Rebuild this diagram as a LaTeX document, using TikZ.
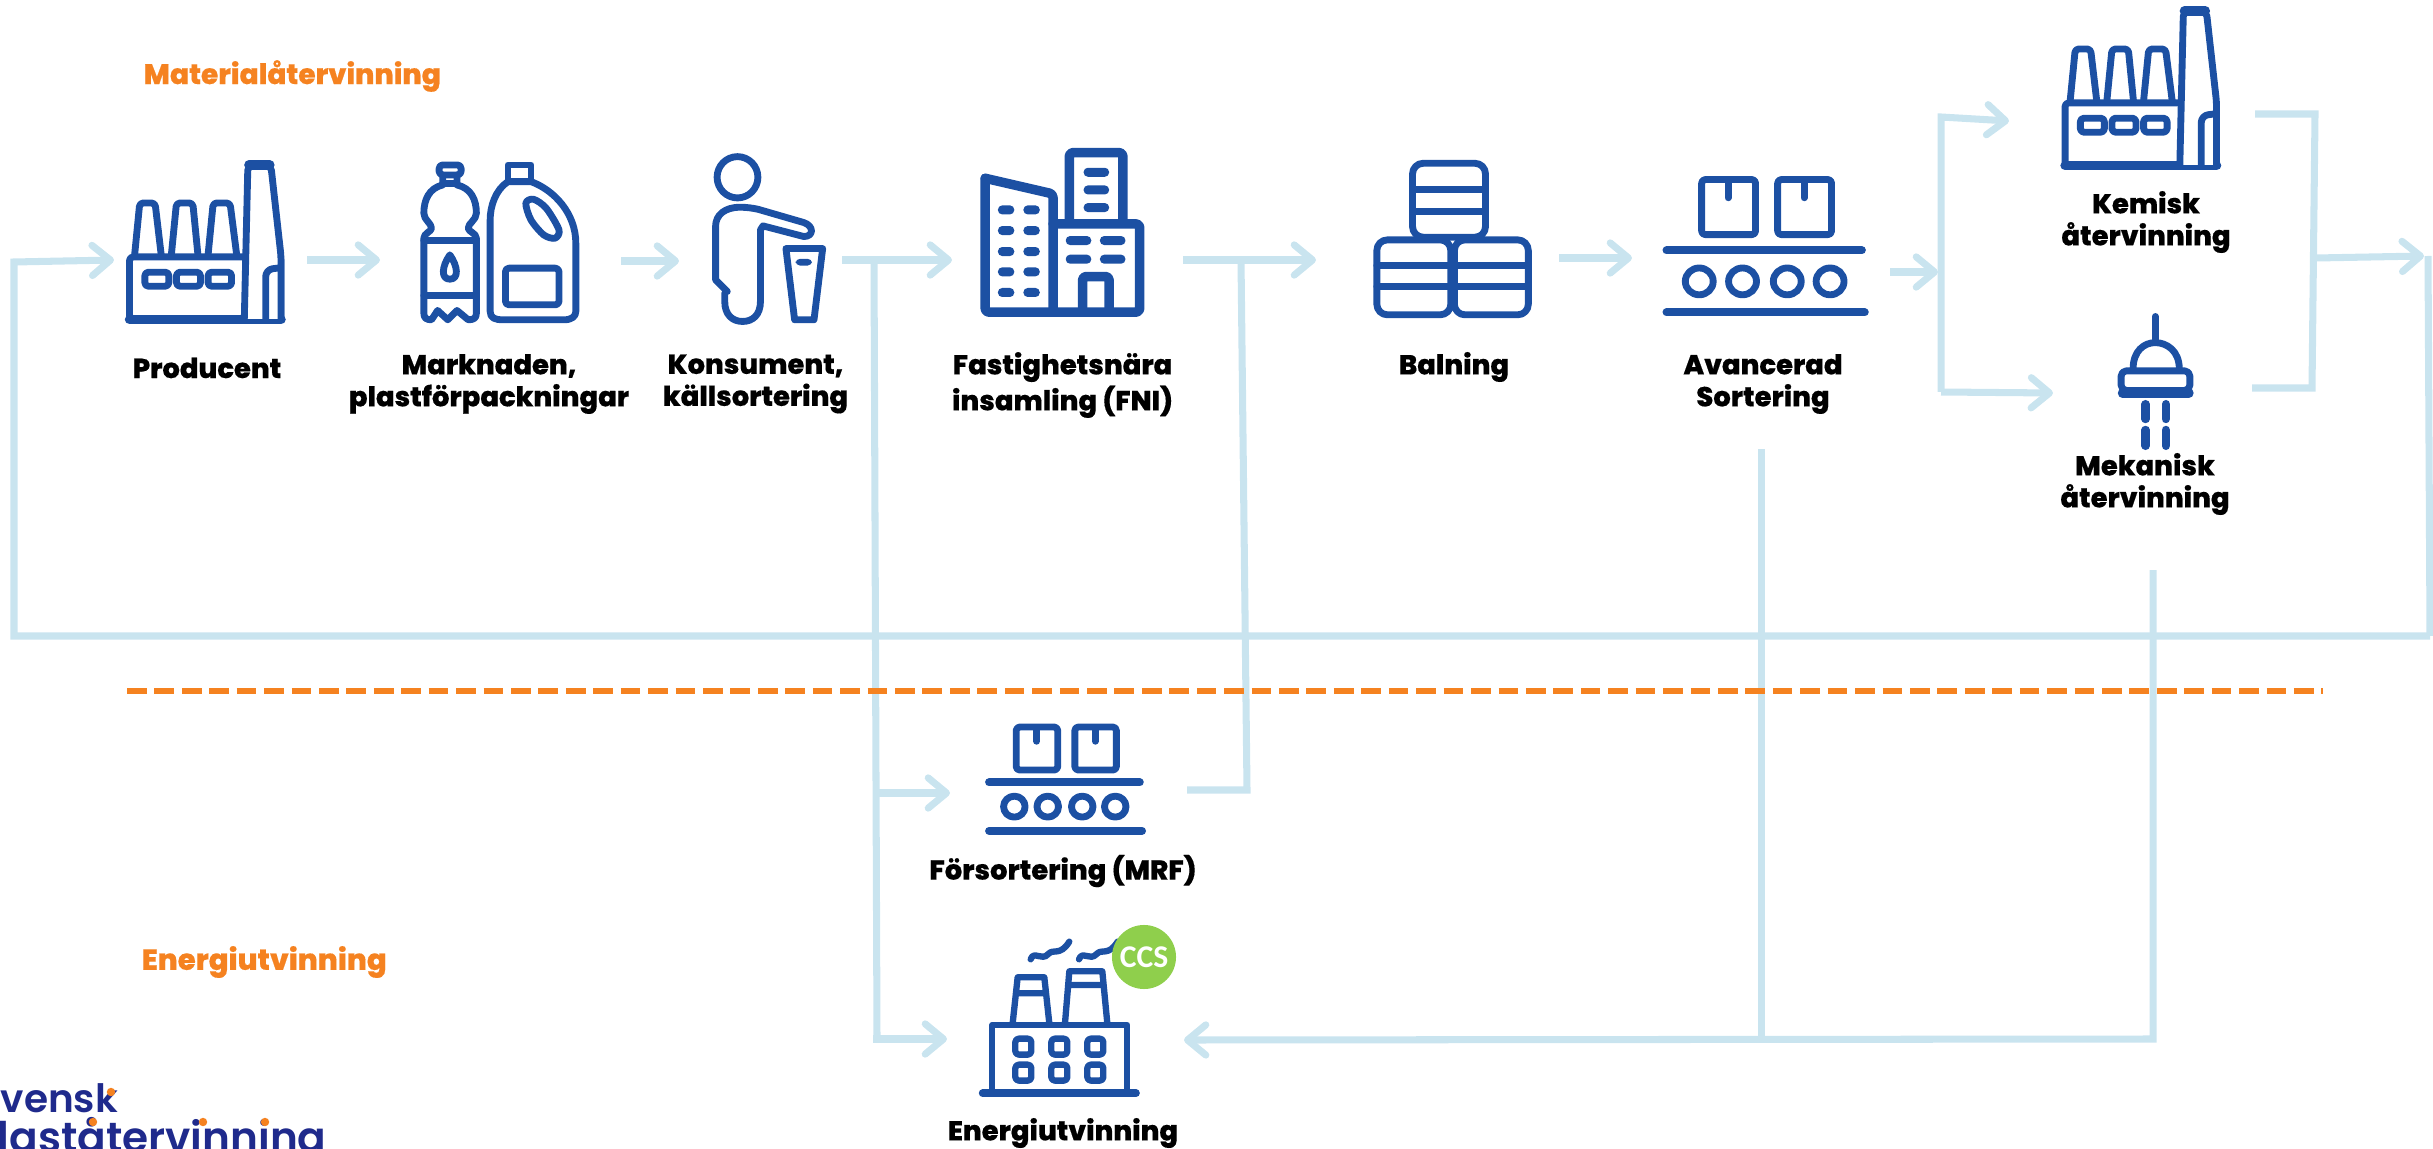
\documentclass[tikz,border=0pt]{standalone}
\usepackage{fontspec}
\usetikzlibrary{arrows.meta}
\setmainfont{Poppins}
\newfontfamily\labfont{Poppins}[UprightFont=*-ExtraBold,FakeBold=0.35]
\newfontfamily\logofont{Poppins}[UprightFont=*-SemiBold]
\newfontfamily\ccsfont{Carlito}[UprightFont=*-Bold]
\definecolor{iconblue}{HTML}{1C50A3}
\definecolor{flow}{HTML}{C9E4EF}
\definecolor{brandorange}{HTML}{F58220}
\definecolor{logoblue}{HTML}{1F2A8C}
\definecolor{ccsgreen}{HTML}{8FCF4C}
\tikzset{
  icon/.style={draw=iconblue,line width=1.95pt,line join=round,line cap=round},
  iconthick/.style={draw=iconblue,line width=2.7pt,line join=round,line cap=round},
  flowline/.style={draw=flow,line width=2pt,line join=miter},
  flowarrow/.style={flowline,-{Straight Barb[length=5.2pt,width=8.6pt,round]}},
  lab/.style={font=\labfont\fontsize{7.8}{9.1}\selectfont,text=black,align=center,inner sep=0pt},
}
\newcommand\Pill[4]{\fill[iconblue,rounded corners=1.2pt] ({#1-#3/2},{#2-#4/2}) rectangle ({#1+#3/2},{#2+#4/2});}
% factory, coordinates of the icon in a 1.96 x 3 grid
\newcommand\FactoryIcon[2]{%
\begin{scope}[shift={(#1,#2)},xscale=.51,yscale=.333,shift={(-52,-130)}]
  \draw[icon,rounded corners=1pt] (58,412) rectangle (355,598);
  \draw[iconthick] (58,600)--(355,600);
  \draw[icon,rounded corners=1.5pt,fill=white] (283,598)--(290,136)--(335,136)--(355,410)--(355,598);
  \draw[iconthick] (292,136)--(333,136);
  \draw[icon,rounded corners=2pt] (325,598)--(325,450)--(352,445);
  \draw[icon,rounded corners=1pt] (68,405)--(78,250)--(108,250)--(120,405);
  \draw[icon,rounded corners=1pt] (140,405)--(150,250)--(182,250)--(192,405);
  \draw[icon,rounded corners=1pt] (212,405)--(222,250)--(255,250)--(268,405);
  \draw[icon,rounded corners=1pt] (88,458) rectangle (135,500);
  \draw[icon,rounded corners=1pt] (150,458) rectangle (197,500);
  \draw[icon,rounded corners=1pt] (212,458) rectangle (258,500);
\end{scope}}
% conveyor, coordinates of the icon in a 2.08 x 2.9 grid
\newcommand\ConveyorIcon[4]{%
\begin{scope}[shift={(#1,#2)},xscale=#3,yscale=#4]
  \draw[icon,rounded corners=1pt] (45,522) rectangle (157,682);
  \draw[icon,rounded corners=1pt] (203,522) rectangle (315,682);
  \draw[icon] (100,530)--(100,575) (258,530)--(258,575);
  \draw[iconthick,line width=2.3pt] (-28,728)--(378,728) (-28,908)--(384,908);
  \foreach \cx in {40,130,223,312} \draw[icon] (\cx,818) ellipse [x radius=29,y radius=39];
\end{scope}}
\begin{document}
\begin{tikzpicture}[x=0.01cm,y=-0.01cm]
\useasboundingbox (0,0) rectangle (2433,1149);
\clip (0,0) rectangle (2433,1149);

% ---------- flow lines
\coordinate (loopL) at (14,262);
\coordinate (loopBL) at (14,636);
\coordinate (loopBR) at (2430,636);
\coordinate (loopTR) at (2428,256);
\coordinate (prodin) at (114,260);
\draw[flowarrow] (loopBR)--(loopBL)--(loopL)--(prodin);
\draw[flowline] (loopBR)--(loopTR);
\coordinate (pa) at (307,260); \coordinate (pb) at (380,260);
\draw[flowarrow] (pa)--(pb);
\coordinate (ma) at (621,261); \coordinate (mb) at (679,261);
\draw[flowarrow] (ma)--(mb);
\coordinate (ka) at (842,260); \coordinate (kb) at (952,260);
\draw[flowarrow] (ka)--(kb);
\coordinate (fa) at (1183,260); \coordinate (fb) at (1316,260);
\draw[flowarrow] (fa)--(fb);
\coordinate (ba) at (1559,258); \coordinate (bb) at (1632,258);
\draw[flowarrow] (ba)--(bb);
\coordinate (aa) at (1890,272); \coordinate (ab) at (1938,272);
\draw[flowarrow] (aa)--(ab);
% split to recycling
\coordinate (spT) at (1941,117); \coordinate (spB) at (1941,392);
\coordinate (kemin) at (2009,121); \coordinate (mekin) at (2053,393);
\draw[flowarrow] (spB)--(spT)--(kemin);
\draw[flowarrow] (spB)--(mekin);
% merge from recycling
\coordinate (kemout) at (2255,114); \coordinate (mgT) at (2315,114);
\coordinate (mgB) at (2312,388); \coordinate (mekout) at (2252,388);
\coordinate (mgM) at (2316,258); \coordinate (mgTip) at (2424,256);
\draw[flowline] (kemout)--(mgT)--(mgB)--(mekout);
\draw[flowarrow] (mgM)--(mgTip);
% konsument branch
\coordinate (kj) at (874,260); \coordinate (kjM) at (877,793); \coordinate (kjB) at (877,1039);
\coordinate (mrfin) at (950,793); \coordinate (energin) at (947,1039);
\draw[flowline] (kj)--(kjB);
\draw[flowarrow] (kjM)--(mrfin);
\draw[flowarrow] (873,1039)--(energin);
% MRF back
\coordinate (fj) at (1241,260); \coordinate (fjB) at (1247,790); \coordinate (mrfout) at (1187,790);
\draw[flowline] (fj)--(fjB)--(mrfout);
% residual to energy
\coordinate (avout) at (1761,449); \coordinate (avj) at (1761,1039);
\coordinate (mekres) at (2153,570); \coordinate (mekc) at (2153,1039);
\coordinate (energr) at (1184,1040);
\draw[flowline] (avout)--(avj);
\draw[flowarrow] (mekres)--(mekc)--(energr);
% dashed divider
\coordinate (dvL) at (127,691); \coordinate (dvR) at (2323,691);
\draw[draw=brandorange,line width=1.5pt,dash pattern=on 5.6pt off 2.2pt] (dvL)--(dvR);

% ---------- icons
\FactoryIcon{126.5}{163}
\FactoryIcon{2062}{9}
% bottles
\begin{scope}[shift={(100,120)},xscale=.51,yscale=.333]
  \draw[icon,rounded corners=1pt] (665,135) rectangle (708,165);
  \draw[icon] (672,165)--(672,195) .. controls (645,205) and (635,240) .. (635,280) .. controls (635,300) and (650,310) .. (650,325) .. controls (650,335) and (635,340) .. (635,355) -- (635,580) .. controls (635,595) and (640,600) .. (650,600) -- (662,572) -- (682,600) -- (700,572) -- (722,600) .. controls (733,600) and (738,595) .. (738,580) -- (738,355) .. controls (738,340) and (722,335) .. (722,325) .. controls (722,310) and (738,300) .. (738,280) .. controls (738,240) and (728,205) .. (700,195) -- (700,165);
  \draw[icon] (672,190)--(700,190) (635,362)--(738,362) (635,527)--(738,527);
  \draw[icon] (686,405) .. controls (670,440) and (668,478) .. (686,478) .. controls (704,478) and (702,440) .. (686,405) -- cycle;
  \draw[icon] (800,185)--(800,135)--(845,135)--(845,185);
  \draw[icon] (800,185) .. controls (775,210) and (765,260) .. (765,300) -- (765,575) .. controls (765,595) and (775,600) .. (790,600) -- (910,600) .. controls (925,600) and (933,590) .. (933,575) -- (933,370) .. controls (933,280) and (890,210) .. (845,185) -- cycle;
  \draw[icon] plot[smooth cycle] coordinates {(835,250)(850,238)(875,265)(900,330)(892,355)(870,345)(845,300)};
  \draw[icon,rounded corners=1pt] (795,445) rectangle (900,555);
% person
  \draw[icon] (1250,172) ellipse [x radius=40,y radius=62];
  \draw[icon] (1230,515) -- (1207,480) -- (1207,320) .. controls (1207,285) and (1225,262) .. (1255,262) .. controls (1270,262) and (1280,265) .. (1290,268) -- (1380,308) .. controls (1400,318) and (1400,350) .. (1380,350) -- (1300,318) -- (1295,330) -- (1295,545) .. controls (1295,585) and (1280,605) .. (1260,605) .. controls (1240,605) and (1225,585) .. (1225,545) -- (1225,520);
  \draw[icon] (1345,386)--(1417,386)--(1400,600)--(1362,600)--cycle;
  \Pill{1380}{427}{32}{20}
\end{scope}
% building
\begin{scope}[shift={(900,120)},xscale=.51,yscale=.333]
  \draw[iconthick,rounded corners=1pt] (167,175)--(300,222)--(300,575);
  \draw[iconthick,rounded corners=1pt] (167,175)--(167,577)--(470,577)--(470,312)--(300,312);
  \draw[iconthick,rounded corners=1pt] (332,305)--(332,98)--(437,98)--(437,305);
  \draw[iconthick,rounded corners=1pt] (358,570)--(358,470)--(410,470)--(410,570);
  \foreach \wy in {270,332,395,456,518} { \Pill{208}{\wy}{32}{27} \Pill{258}{\wy}{32}{27} }
  \foreach \wy in {362,418} { \Pill{350}{\wy}{50}{27} \Pill{417}{\wy}{50}{27} }
  \foreach \wy in {157,210,263} { \Pill{385}{\wy}{50}{27} }
% bales
  \draw[icon,rounded corners=3pt] (1005,130) rectangle (1148,352);
  \draw[icon] (1005,208)--(1148,208) (1005,275)--(1148,275);
  \draw[icon,rounded corners=3pt] (935,360) rectangle (1080,585);
  \draw[icon,rounded corners=3pt] (1087,360) rectangle (1232,585);
  \draw[icon] (935,437)--(1232,437) (935,500)--(1232,500);
\end{scope}
% conveyors
\ConveyorIcon{1680}{0}{.481}{.344}
\ConveyorIcon{999.5}{586.6}{.371}{.269}
% nozzle
\begin{scope}[shift={(1680,0)},xscale=.481,yscale=.344]
  \draw[icon] (988,920)--(988,995);
  \draw[icon] (942,1072) .. controls (942,1020) and (965,996) .. (988,996) .. controls (1012,996) and (1038,1020) .. (1038,1072);
  \draw[icon,rounded corners=1.5pt] (917,1078) rectangle (1060,1135);
  \draw[iconthick] (920,1143)--(1058,1143);
  \draw[icon,line width=2.4pt] (968,1175)--(968,1218) (1010,1175)--(1010,1218) (968,1250)--(968,1296) (1010,1250)--(1010,1296);
\end{scope}
% power plant
\begin{scope}[shift={(860,700)},scale=.3333]
  \draw[iconthick,line width=2.2pt] (368,1180)--(828,1180);
  \draw[icon,line width=1.8pt] (397,1180)--(397,975)--(802,975)--(802,1180);
  \draw[icon,line width=1.8pt] (458,970)--(473,832)--(553,832)--(568,970) (469,880)--(557,880);
  \draw[icon,line width=1.8pt] (615,970)--(628,814)--(727,814)--(742,970) (625,855)--(730,855);
  \foreach \wx in {490,598,706} \foreach \wy in {1040,1118}
    \draw[icon,line width=1.8pt,rounded corners=1pt] ({\wx-24},{\wy-24}) rectangle ({\wx+24},{\wy+24});
  \foreach \sx in {0,145}
    \draw[icon,line width=1.8pt] ({512+\sx},778) .. controls ({522+\sx},750) and ({545+\sx},785) .. ({565+\sx},762) .. controls ({580+\sx},745) and ({600+\sx},770) .. ({628+\sx},725);
\end{scope}
\node[circle,fill=ccsgreen,minimum size=0.64cm,inner sep=0pt,text=white,font=\ccsfont\fontsize{9}{10}\selectfont] (ccs) at (1144,957) {CCS};

% ---------- texts
\node[anchor=west,inner sep=0pt,text=brandorange,font=\labfont\fontsize{8}{9.1}\selectfont] (h1) at (143,76) {Materialåtervinning};
\node[anchor=west,inner sep=0pt,text=brandorange,font=\labfont\fontsize{8.3}{9.1}\selectfont] (h2) at (141,962) {Energiutvinning};
\node[lab] (producent) at (207,368) {Producent};
\node[lab] (marknaden) at (489,384) {Marknaden,\\plastförpackningar};
\node[lab] (konsument) at (755.5,384) {Konsument,\\källsortering};
\node[lab] (fni) at (1062.5,385) {Fastighetsnära\\insamling (FNI)};
\node[lab] (balning) at (1454,367) {Balning};
\node[lab] (avancerad) at (1763,384) {Avancerad\\Sortering};
\node[lab] (kemisk) at (2146,222) {Kemisk\\återvinning};
\node[lab] (mekanisk) at (2145,484) {Mekanisk\\återvinning};
\node[lab] (mrf) at (1063,871) {Försortering (MRF)};
\node[lab] (energi) at (1063,1133) {Energiutvinning};

% ---------- cropped logo
\node[anchor=base west,inner sep=0pt,text=logoblue,font=\logofont\fontsize{11.1}{13}\selectfont] (logo1) at (0,1112) {vensk};
\node[anchor=base west,inner sep=0pt,text=logoblue,font=\logofont\fontsize{12}{13}\selectfont] (logo2) at (-3,1152) {laståtervinning};
\foreach \dx/\dy in {111/1092,93/1122,203/1122,265/1122} \fill[brandorange] (\dx,\dy) circle (1.2pt);
\end{tikzpicture}
\end{document}
